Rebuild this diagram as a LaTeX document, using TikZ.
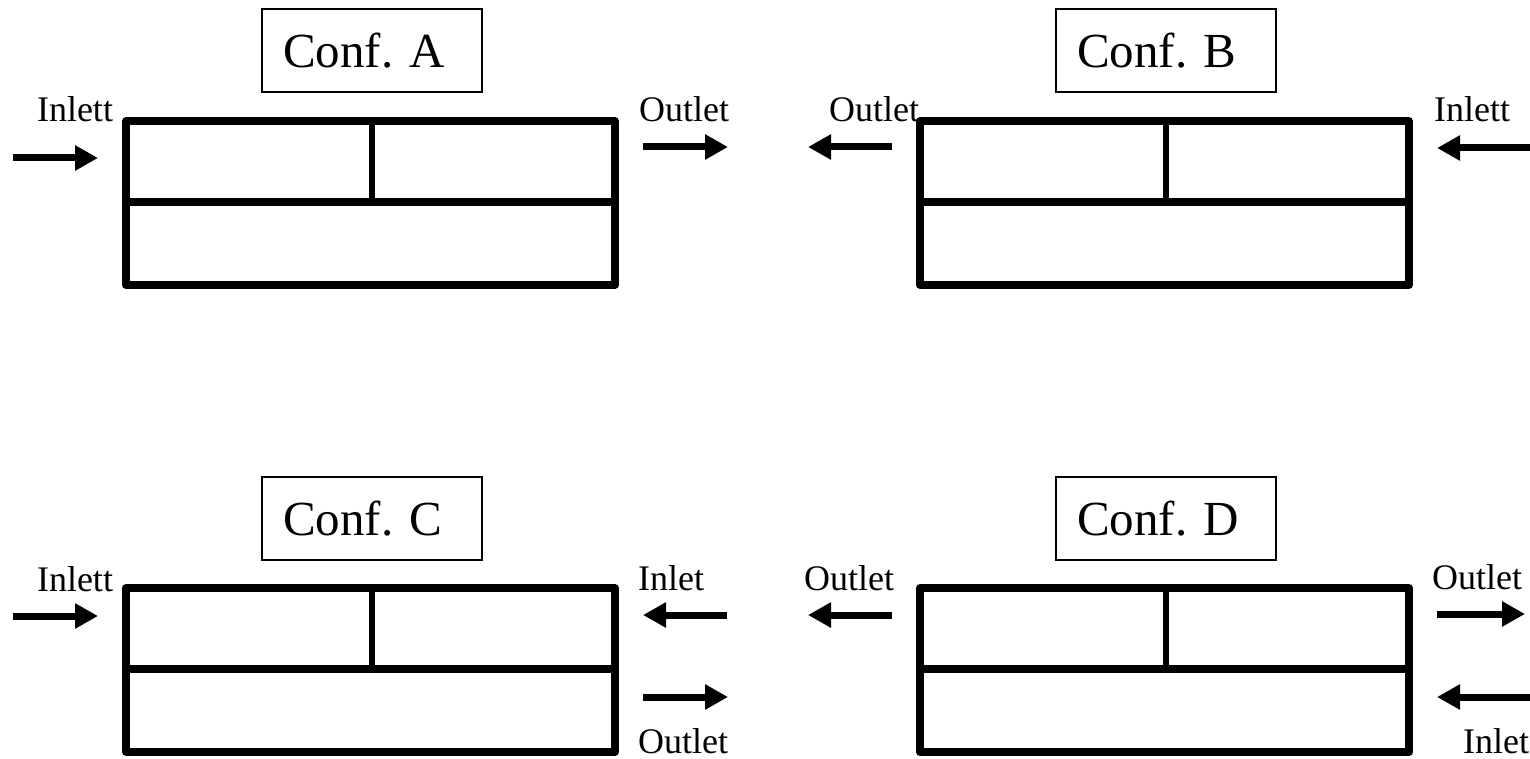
\documentclass[tikz,border=0pt]{standalone}
\usepackage{fontspec}
\setmainfont{Liberation Serif}
\usetikzlibrary{arrows.meta}
\begin{document}
\begin{tikzpicture}[x=1pt,y=-1pt,
  wall/.style={line width=7.5pt,line join=round,line cap=round},
  partition/.style={line width=6pt},
  conflabel/.style={draw,line width=1.5pt,minimum height=83pt,text width=178pt,
    inner xsep=21pt,align=left,font=\fontsize{49}{56}\selectfont},
  portlabel/.style={anchor=base,inner sep=0pt,font=\fontsize{36}{40}\selectfont},
  flow/.style={line width=7pt,-{Triangle[length=23pt,width=24pt]}},
  pics/tank/.style={code={
    \draw[wall] (0,0) rectangle (489,164);
    \draw[wall] (0,81) -- (489,81);
    \draw[partition] (246,0) -- (246,81);
  }}]
\useasboundingbox (0,0) rectangle (1530,759);

% the four heat exchanger tanks
\pic at (126,121) {tank};
\pic at (920,121) {tank};
\pic at (126,588) {tank};
\pic at (920,588) {tank};

% configuration titles
\node[conflabel] (tA) at (372,50.5) {Conf.\ A};
\node[conflabel] (tB) at (1166,50.5) {Conf.\ B};
\node[conflabel] (tC) at (372,518.5) {Conf.\ C};
\node[conflabel] (tD) at (1166,518.5) {Conf.\ D};

% port labels
\node[portlabel] (aIn)  at (75,122)   {Inlett};
\node[portlabel] (aOut) at (684,122)  {Outlet};
\node[portlabel] (bOut) at (874,122)  {Outlet};
\node[portlabel] (bIn)  at (1472,122) {Inlett};
\node[portlabel] (cIn)  at (75,591)   {Inlett};
\node[portlabel] (cIn2) at (671,590)  {Inlet};
\node[portlabel] (cOut) at (683,753)  {Outlet};
\node[portlabel] (dOut) at (849,590)  {Outlet};
\node[portlabel] (dOut2) at (1477,589) {Outlet};
\node[portlabel] (dIn)  at (1496,753) {Inlet};

% flow arrow end points
\coordinate (aInT)  at (13,158);   \coordinate (aInH)  at (98,158);
\coordinate (aOutT) at (643,147);  \coordinate (aOutH) at (728,147);
\coordinate (bOutT) at (892,147);  \coordinate (bOutH) at (808,147);
\coordinate (bInT)  at (1530,148); \coordinate (bInH)  at (1437,148);
\coordinate (cInT)  at (13,616);   \coordinate (cInH)  at (98,616);
\coordinate (cIn2T) at (727,615);  \coordinate (cIn2H) at (643,615);
\coordinate (cOutT) at (643,697);  \coordinate (cOutH) at (728,697);
\coordinate (dOutT) at (892,615);  \coordinate (dOutH) at (808,615);
\coordinate (dOut2T) at (1437,614); \coordinate (dOut2H) at (1525,614);
\coordinate (dInT)  at (1530,697); \coordinate (dInH)  at (1437,697);

% flow arrows
\draw[flow] (aInT) -- (aInH);
\draw[flow] (aOutT) -- (aOutH);
\draw[flow] (bOutT) -- (bOutH);
\draw[flow] (bInT) -- (bInH);
\draw[flow] (cInT) -- (cInH);
\draw[flow] (cIn2T) -- (cIn2H);
\draw[flow] (cOutT) -- (cOutH);
\draw[flow] (dOutT) -- (dOutH);
\draw[flow] (dOut2T) -- (dOut2H);
\draw[flow] (dInT) -- (dInH);
\end{tikzpicture}
\end{document}
